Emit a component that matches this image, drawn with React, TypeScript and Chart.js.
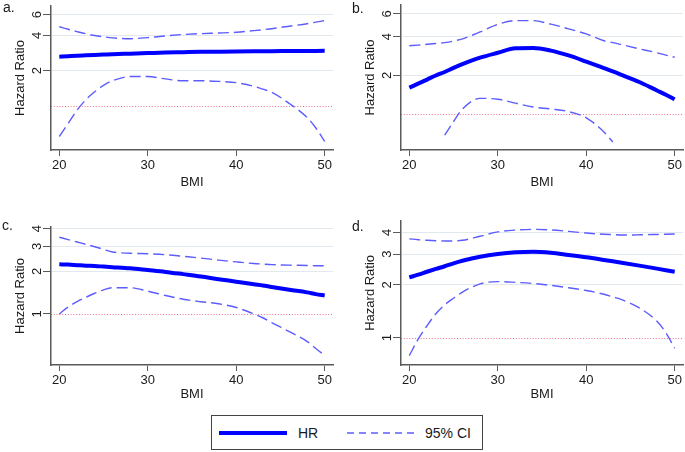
import React, { useEffect, useRef } from "react";
import { Chart, registerables } from "chart.js";

Chart.register(...registerables);

// ---------- data ----------
const BMI = [20, 21, 22, 23, 24, 25, 26, 28, 30, 32, 34, 36, 38, 40, 42, 43, 44, 46, 48, 49, 50];
const X_TICKS = [20, 30, 40, 50];

const HR_A = [2.63, 2.655, 2.68, 2.7, 2.72, 2.74, 2.76, 2.79, 2.82, 2.85, 2.87, 2.89, 2.9, 2.91, 2.92, 2.925, 2.93, 2.935, 2.94, 2.945, 2.95];
const UP_A = [4.73, 4.5, 4.3, 4.12, 3.98, 3.88, 3.8, 3.74, 3.82, 3.95, 4.06, 4.13, 4.18, 4.24, 4.38, 4.46, 4.55, 4.78, 5.02, 5.17, 5.33];
const LO_A = [0.55, 0.71, 0.92, 1.13, 1.32, 1.5, 1.64, 1.78, 1.78, 1.7, 1.64, 1.64, 1.62, 1.58, 1.47, 1.39, 1.31, 1.05, 0.8, 0.65, 0.5];

const HR_B = [1.61, 1.73, 1.86, 2.0, 2.13, 2.29, 2.45, 2.75, 3.0, 3.25, 3.27, 3.12, 2.86, 2.56, 2.28, 2.15, 2.02, 1.78, 1.53, 1.42, 1.31];
const UP_B = [3.4, 3.44, 3.49, 3.54, 3.6, 3.7, 3.85, 4.35, 4.98, 5.33, 5.33, 5.0, 4.6, 4.2, 3.72, 3.6, 3.47, 3.22, 3.0, 2.88, 2.77];
const LO_B = [null, null, null, null, 0.69, 0.88, 1.1, 1.33, 1.31, 1.22, 1.14, 1.1, 1.05, 0.94, 0.73, 0.61, null, null, null, null, null];

const HR_C = [2.24, 2.23, 2.21, 2.19, 2.18, 2.16, 2.14, 2.1, 2.04, 1.98, 1.91, 1.84, 1.76, 1.69, 1.62, 1.59, 1.55, 1.48, 1.42, 1.38, 1.35];
const UP_C = [3.48, 3.35, 3.22, 3.1, 2.98, 2.86, 2.74, 2.68, 2.66, 2.62, 2.55, 2.48, 2.4, 2.33, 2.27, 2.25, 2.23, 2.21, 2.2, 2.19, 2.19];
const LO_C = [1.0, 1.12, 1.22, 1.31, 1.4, 1.48, 1.53, 1.53, 1.45, 1.35, 1.27, 1.22, 1.18, 1.11, 1.0, 0.94, 0.87, 0.75, 0.64, 0.57, 0.51];

const HR_D = [2.21, 2.29, 2.38, 2.47, 2.56, 2.66, 2.75, 2.9, 3.01, 3.08, 3.1, 3.06, 2.97, 2.88, 2.78, 2.73, 2.68, 2.58, 2.48, 2.43, 2.38];
const UP_D = [3.67, 3.63, 3.6, 3.58, 3.57, 3.57, 3.6, 3.8, 4.02, 4.12, 4.16, 4.13, 4.05, 3.96, 3.9, 3.88, 3.86, 3.87, 3.89, 3.9, 3.91];
const LO_D = [0.79, 0.98, 1.17, 1.37, 1.54, 1.68, 1.82, 2.03, 2.09, 2.07, 2.04, 1.99, 1.93, 1.86, 1.77, 1.71, 1.65, 1.48, 1.24, 1.07, 0.87];

const Y_TICKS_A = [2, 4, 6];
const Y_TICKS_B = [2, 4, 6];
const Y_TICKS_C = [1, 2, 3, 4];
const Y_TICKS_D = [1, 2, 3, 4];

const REF_VALUE = 1;
const PANEL_LABELS = ["a.", "b.", "c.", "d."];
const X_TITLE = "BMI";
const Y_TITLE = "Hazard Ratio";
const LEGEND_LABELS = ["HR", "95% CI"];

// ---------- styles ----------
const FAMILY = "'Liberation Sans', Arial, Helvetica, sans-serif";
const TEXT = "#1a1a1a";
const AXIS = "#5a5a5a";
const GRID = "#e1e9ee";
const HR_COLOR = "#0000ff";
const CI_COLOR = "#5c5cff";

const refLinePlugin = {
  id: "refLine",
  beforeDatasetsDraw(chart: any) {
    const { ctx, chartArea, scales } = chart;
    const py = Math.round(scales.y.getPixelForValue(REF_VALUE)) + 0.5;
    ctx.save();
    ctx.strokeStyle = "rgba(235,50,80,0.7)";
    ctx.lineWidth = 1;
    ctx.setLineDash([1, 1.8]);
    ctx.beginPath();
    ctx.moveTo(chartArea.left, py);
    ctx.lineTo(chartArea.right, py);
    ctx.stroke();
    ctx.restore();
  },
};

type Box = { left: number; top: number; width: number; height: number };
type Area = { left: number; top: number; right: number; bottom: number };

function Panel(props: {
  hr: (number | null)[];
  up: (number | null)[];
  lo: (number | null)[];
  yTicks: number[];
  yMin: number;
  yMax: number;
  box: Box;
  area: Area;
  titleBottomPad: number;
}) {
  const ref = useRef<HTMLCanvasElement>(null);
  useEffect(() => {
    const { hr, up, lo, yTicks, yMin, yMax, box, area, titleBottomPad } = props;
    const font = { family: FAMILY, size: 13 };
    const pts = (arr: (number | null)[]) => BMI.map((x, i) => ({ x, y: arr[i] }));
    const xH = box.height - area.bottom;
    const line = {
      pointRadius: 0,
      fill: false,
      cubicInterpolationMode: "monotone" as const,
    };
    const chart = new Chart(ref.current as HTMLCanvasElement, {
      type: "line",
      data: {
        datasets: [
          { label: LEGEND_LABELS[0], data: pts(hr), borderColor: HR_COLOR, borderWidth: 4, ...line },
          { label: LEGEND_LABELS[1], data: pts(up), borderColor: CI_COLOR, borderWidth: 1.4, borderDash: [11, 5], ...line },
          { label: LEGEND_LABELS[1] + " ", data: pts(lo), borderColor: CI_COLOR, borderWidth: 1.4, borderDash: [11, 5], ...line },
        ] as any,
      },
      options: {
        responsive: false,
        animation: false,
        devicePixelRatio: 1,
        layout: { padding: { left: 0, top: area.top, right: box.width - area.right, bottom: 0 } },
        plugins: { legend: { display: false }, tooltip: { enabled: false } },
        scales: {
          x: {
            type: "linear",
            min: 19.06,
            max: 50.94,
            afterBuildTicks: (s: any) => {
              s.ticks = X_TICKS.map((v) => ({ value: v }));
            },
            afterFit: (s: any) => {
              s.height = xH;
              s.paddingLeft = 0;
              s.paddingRight = 0;
            },
            grid: { display: true, drawOnChartArea: false, drawTicks: true, tickLength: 6, color: AXIS, tickColor: AXIS, tickWidth: 1 },
            border: { display: true, color: AXIS, width: 1.5 },
            ticks: { font, color: TEXT, padding: 2, maxRotation: 0, autoSkip: false, callback: (v: any) => String(v) },
            title: { display: true, text: X_TITLE, font, color: TEXT, padding: { top: 0, bottom: titleBottomPad } },
          },
          y: {
            type: "logarithmic",
            min: yMin,
            max: yMax,
            afterBuildTicks: (s: any) => {
              s.ticks = yTicks.map((v) => ({ value: v }));
            },
            afterFit: (s: any) => {
              s.width = area.left;
              s.paddingTop = 0;
              s.paddingBottom = 0;
            },
            grid: {
              display: true,
              drawOnChartArea: true,
              drawTicks: true,
              tickLength: 8,
              color: (c: any) => (c.tick && c.tick.value === REF_VALUE ? "rgba(0,0,0,0)" : GRID),
              tickColor: AXIS,
              lineWidth: 1,
              tickWidth: 1,
            },
            border: { display: true, color: AXIS, width: 1.5 },
            ticks: {
              font,
              color: TEXT,
              padding: 2,
              minRotation: 90,
              maxRotation: 90,
              crossAlign: "center",
              autoSkip: false,
              callback: (v: any) => String(v),
            },
            title: { display: true, text: Y_TITLE, font, color: TEXT, padding: { top: area.left - 31 - 7.8, bottom: 0 } },
          },
        },
      } as any,
      plugins: [refLinePlugin],
    });
    return () => chart.destroy();
  }, []);
  const { box } = props;
  return (
    <canvas
      ref={ref}
      width={box.width}
      height={box.height}
      style={{ position: "absolute", left: box.left, top: box.top, width: box.width, height: box.height, display: "block" }}
    />
  );
}

const labelStyle = (left: number, top: number): React.CSSProperties => ({
  position: "absolute",
  left,
  top,
  fontFamily: FAMILY,
  fontSize: 14,
  lineHeight: "14px",
  color: TEXT,
});

export default function App() {
  return (
    <div style={{ position: "absolute", left: 0, top: 0, width: 685, height: 452, background: "#fff", overflow: "hidden" }}>
      <Panel hr={HR_A} up={UP_A} lo={LO_A} yTicks={Y_TICKS_A} yMin={0.422} yMax={7.1}
        box={{ left: 0, top: 0, width: 340, height: 200 }} area={{ left: 51, top: 6, right: 333, bottom: 150 }} titleBottomPad={10} />
      <Panel hr={HR_B} up={UP_B} lo={LO_B} yTicks={Y_TICKS_B} yMin={0.529} yMax={7.04}
        box={{ left: 343, top: 0, width: 342, height: 200 }} area={{ left: 58, top: 5, right: 340, bottom: 150 }} titleBottomPad={10} />
      <Panel hr={HR_C} up={UP_C} lo={LO_C} yTicks={Y_TICKS_C} yMin={0.436} yMax={4.11}
        box={{ left: 0, top: 205, width: 340, height: 200 }} area={{ left: 51, top: 22, right: 333, bottom: 160 }} titleBottomPad={3} />
      <Panel hr={HR_D} up={UP_D} lo={LO_D} yTicks={Y_TICKS_D} yMin={0.698} yMax={4.66}
        box={{ left: 343, top: 205, width: 342, height: 200 }} area={{ left: 58, top: 15.7, right: 340, bottom: 160 }} titleBottomPad={3} />

      <span style={labelStyle(3, 0)}>{PANEL_LABELS[0]}</span>
      <span style={labelStyle(352, 1)}>{PANEL_LABELS[1]}</span>
      <span style={labelStyle(2, 218)}>{PANEL_LABELS[2]}</span>
      <span style={labelStyle(352, 219)}>{PANEL_LABELS[3]}</span>

      <div
        style={{
          position: "absolute",
          left: 211,
          top: 415,
          width: 272,
          height: 35,
          boxSizing: "border-box",
          border: "1px solid #444",
          background: "#fff",
          fontFamily: FAMILY,
          fontSize: 14,
          color: TEXT,
        }}
      >
        <svg width={270} height={33} style={{ position: "absolute", left: 0, top: 0 }}>
          <line x1={7} y1={17} x2={75} y2={17} stroke={HR_COLOR} strokeWidth={4} />
          <line x1={135} y1={17} x2={203} y2={17} stroke={CI_COLOR} strokeWidth={1.3} strokeDasharray="7 5" />
        </svg>
        <span style={{ position: "absolute", left: 86, top: 9, lineHeight: "16px" }}>{LEGEND_LABELS[0]}</span>
        <span style={{ position: "absolute", left: 213, top: 9, lineHeight: "16px" }}>{LEGEND_LABELS[1]}</span>
      </div>
    </div>
  );
}
